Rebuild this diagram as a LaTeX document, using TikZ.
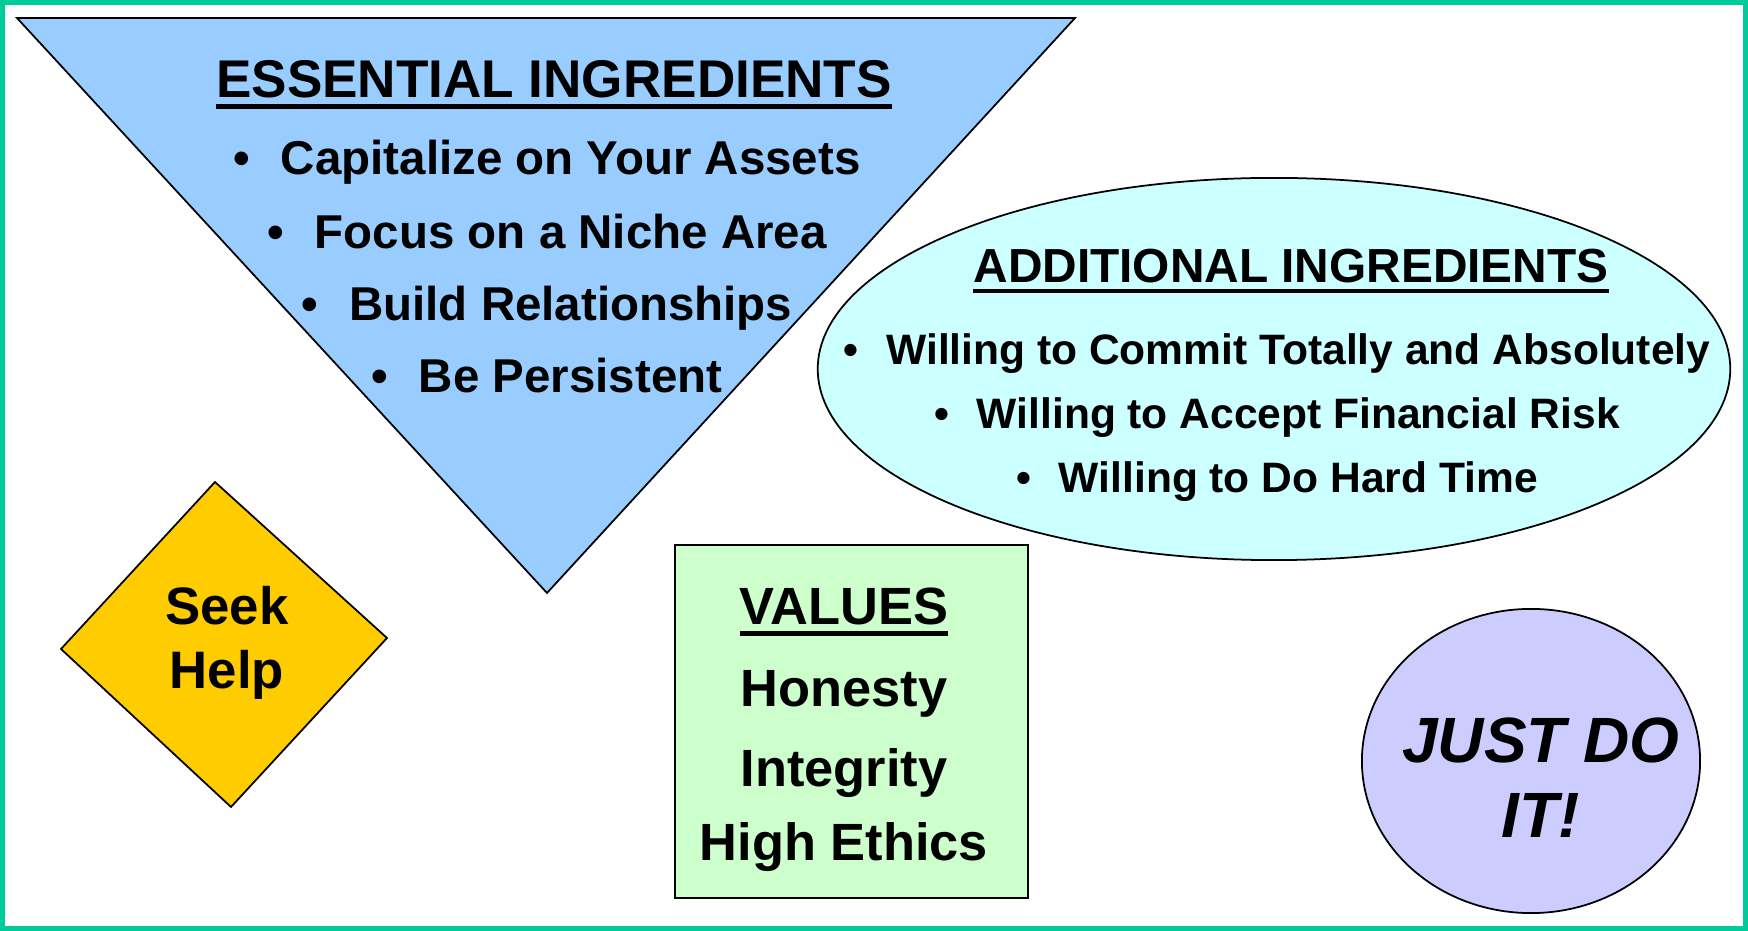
\documentclass[tikz,border=0pt]{standalone}
\usepackage{fontspec}
\setmainfont{Liberation Sans}
\definecolor{framegreen}{HTML}{00CC99}
\definecolor{triblue}{HTML}{99CCFF}
\definecolor{ovalcyan}{HTML}{CCFFFF}
\definecolor{signgold}{HTML}{FFCC00}
\definecolor{valgreen}{HTML}{CCFFCC}
\definecolor{dolilac}{HTML}{CCCCFF}
\newcommand\ulhead[1]{\setbox0\hbox{#1}\rlap{\rule[-0.21em]{\wd0}{0.09em}}\box0}
\newcommand\bul{\makebox[1em][l]{\textbullet}}
\begin{document}
\begin{tikzpicture}[x=0.01cm,y=-0.01cm,
    outline/.style={draw=black,line width=0.5pt},
    txt/.style={anchor=base,inner sep=0pt},
    sz/.style={font=\fontsize{#1}{#1}\selectfont\bfseries}]
        \useasboundingbox (0,0) rectangle (1748,931);
        %% Frame
        \draw[framegreen,line width=1.45pt] (2.5,2.5) rectangle (1745.5,928.5);
        %% Shapes
        \draw[outline,fill=triblue] (17,18) -- (1075,18) -- (547,593) -- cycle;
        \draw[outline,fill=ovalcyan] (1274,369) ellipse [x radius=4.56cm,y radius=1.91cm];
        \draw[outline,fill=signgold] (215,482) -- (387,638) -- (231,807) -- (61,649) -- cycle;
        \draw[outline,fill=valgreen] (675,545) rectangle (1028,898);
        \draw[outline,fill=dolilac] (1531,761) ellipse [x radius=1.69cm,y radius=1.52cm];
        %% Essential ingredients
        \node[txt,sz=15.1] (essTitle) at (554,98) {\ulhead{ESSENTIAL INGREDIENTS}};
        \node[txt,sz=13.5] (essA) at (547,175) {\bul Capitalize on Your Assets};
        \node[txt,sz=13.5] (essB) at (547,249) {\bul Focus on a Niche Area};
        \node[txt,sz=13.5] (essC) at (547,321) {\bul Build Relationships};
        \node[txt,sz=13.5] (essD) at (547,393) {\bul Be Persistent};
        %% Additional ingredients
        \node[txt,sz=13.6] (addTitle) at (1291,283) {\ulhead{ADDITIONAL INGREDIENTS}};
        \node[txt,sz=12.1] (addA) at (1277,365) {\bul Willing to Commit Totally and Absolutely};
        \node[txt,sz=12.1] (addB) at (1277,429) {\bul Willing to Accept Financial Risk};
        \node[txt,sz=12.1] (addC) at (1277,493) {\bul Willing to Do Hard Time};
        %% Values
        \node[txt,sz=14.9] (valTitle) at (844,625) {\ulhead{VALUES}};
        \node[txt,sz=14.9] (valA) at (844,707) {Honesty};
        \node[txt,sz=14.9] (valB) at (844,787) {Integrity};
        \node[txt,sz=14.9] (valC) at (844,860) {High Ethics};
        %% Seek help
        \node[txt,sz=15] (seekA) at (227,625) {Seek};
        \node[txt,sz=15] (seekB) at (227,689) {Help};
        %% Just do it
        \node[txt,sz=18.2] (doA) at (1541,763) {\itshape JUST DO};
        \node[txt,sz=18.2] (doB) at (1541,838) {\itshape IT!};
\end{tikzpicture}
\end{document}
